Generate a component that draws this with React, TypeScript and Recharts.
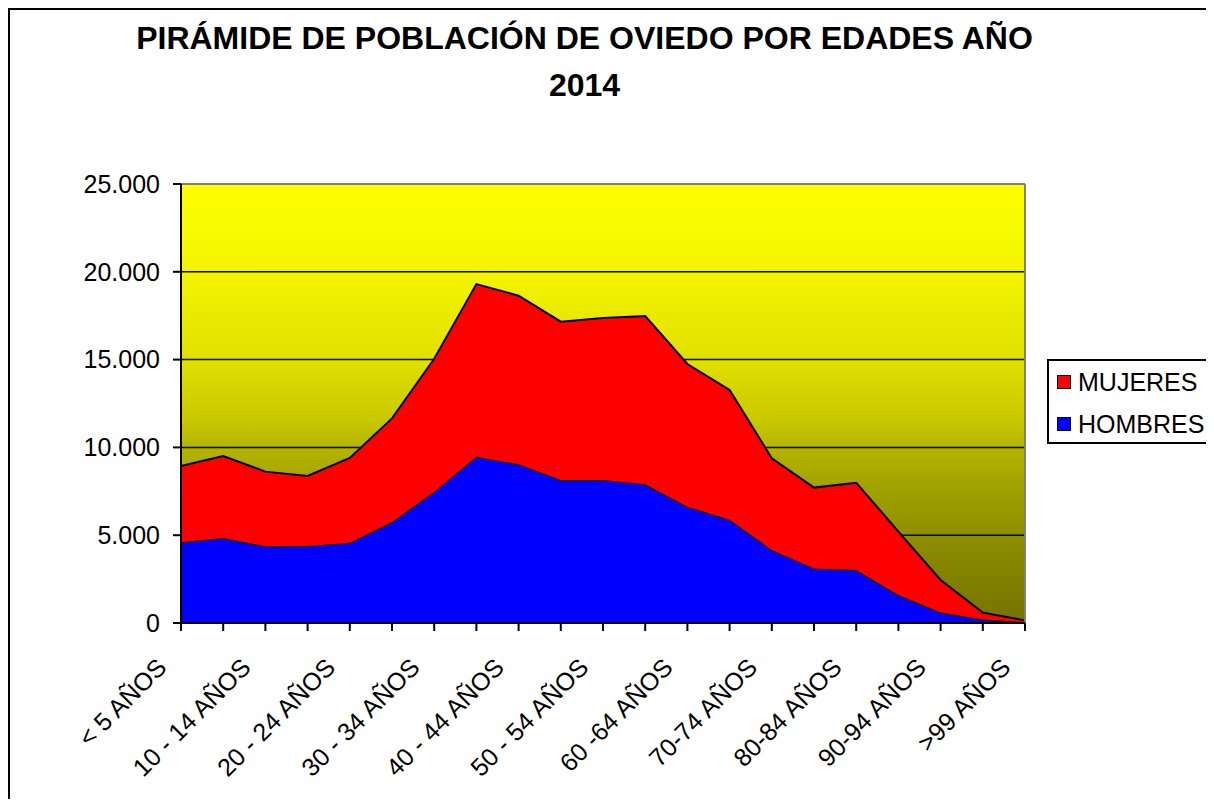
import { AreaChart, Area, XAxis, YAxis, CartesianGrid, ReferenceLine } from 'recharts'

const edades = [
  '< 5 AÑOS', '5 - 9 AÑOS', '10 - 14 AÑOS', '15 - 19 AÑOS', '20 - 24 AÑOS',
  '25 - 29 AÑOS', '30 - 34 AÑOS', '35 - 39 AÑOS', '40 - 44 AÑOS', '45 - 49 AÑOS',
  '50 - 54 AÑOS', '55 - 59 AÑOS', '60 -64 AÑOS', '65-69 AÑOS', '70-74 AÑOS',
  '75-79 AÑOS', '80-84 AÑOS', '85-89 AÑOS', '90-94 AÑOS', '95-99 AÑOS', '>99 AÑOS',
]

const hombres = [
  4600, 4840, 4370, 4380, 4570, 5750, 7480, 9470, 9040, 8140, 8140,
  7900, 6620, 5880, 4160, 3110, 3020, 1590, 600, 200, 40,
]

const mujeres = [
  4340, 4670, 4250, 3990, 4830, 5900, 7570, 9830, 9600, 9020, 9230,
  9580, 8130, 7390, 5220, 4600, 4970, 3610, 1850, 390, 110,
]

const yTicks = [0, 5000, 10000, 15000, 20000, 25000]

const data = edades.map((edad, i) => ({ edad, HOMBRES: hombres[i], MUJERES: mujeres[i] }))

const FONT = '"Liberation Sans", Arial, sans-serif'

const fmt = (v: number) => String(v).replace(/\B(?=(\d{3})+(?!\d))/g, '.')

function EdadTick(props: any) {
  const { x, y, payload, index } = props
  if (index % 2 !== 0) return null
  const tx = x - 13
  const ty = y + 38
  return (
    <text
      x={tx}
      y={ty}
      textAnchor="end"
      transform={`rotate(-45 ${tx} ${ty})`}
      fontSize={25}
      fontFamily={FONT}
      fill="#000"
    >
      {payload.value}
    </text>
  )
}

const legendItems = [
  { name: 'MUJERES', color: '#FF0000' },
  { name: 'HOMBRES', color: '#0000FF' },
]

export default function App() {
  return (
    <div
      style={{
        position: 'relative', width: 1206, height: 799, marginBottom: -8,
        overflow: 'hidden', fontFamily: FONT,
      }}
    >
      <style>{'html, body { overflow: hidden; }'}</style>
      <div
        style={{
          position: 'absolute', left: 0, top: 0, width: 1400, height: 1000,
          border: '2px solid #000', boxSizing: 'border-box',
        }}
      />
      <div
        style={{
          position: 'absolute', left: 0, top: 7, width: 1153, textAlign: 'center',
          fontSize: 32, fontWeight: 'bold', lineHeight: '47px', color: '#000',
        }}
      >
        PIRÁMIDE DE POBLACIÓN DE OVIEDO POR EDADES AÑO
        <br />
        2014
      </div>
      <div style={{ position: 'absolute', left: 0, top: 0 }}>
        <AreaChart
          width={1206}
          height={799}
          data={data}
          margin={{ top: 176, right: 189, left: 73, bottom: 64 }}
        >
          <defs>
            <linearGradient id="fondo" x1="0" y1="0" x2="0" y2="1">
              <stop offset="0%" stopColor="#FFFF00" />
              <stop offset="20%" stopColor="#F4F400" />
              <stop offset="40%" stopColor="#E0E000" />
              <stop offset="54%" stopColor="#C8C800" />
              <stop offset="60%" stopColor="#B4B400" />
              <stop offset="68%" stopColor="#A4A400" />
              <stop offset="80%" stopColor="#8E8E00" />
              <stop offset="100%" stopColor="#747400" />
            </linearGradient>
          </defs>
          <CartesianGrid
            vertical={false}
            stroke="#000"
            strokeWidth={1.5}
            fill="url(#fondo)"
            fillOpacity={1}
          />
          <XAxis
            dataKey="edad"
            interval={0}
            height={120}
            tickSize={8}
            tickMargin={0}
            tick={<EdadTick />}
            axisLine={{ stroke: '#000', strokeWidth: 2 }}
            tickLine={{ stroke: '#000', strokeWidth: 2 }}
          />
          <YAxis
            width={100}
            domain={[0, 25000]}
            ticks={yTicks}
            tickFormatter={fmt}
            tickSize={8}
            tickMargin={13}
            tick={{ fill: '#000', fontSize: 25, fontFamily: FONT }}
            axisLine={{ stroke: '#000', strokeWidth: 2 }}
            tickLine={{ stroke: '#000', strokeWidth: 2 }}
          />
          <Area
            type="linear"
            dataKey="HOMBRES"
            stackId="p"
            fill="#0000FF"
            fillOpacity={1}
            stroke="#000"
            strokeWidth={2}
            isAnimationActive={false}
          />
          <Area
            type="linear"
            dataKey="MUJERES"
            stackId="p"
            fill="#FF0000"
            fillOpacity={1}
            stroke="#000"
            strokeWidth={2}
            isAnimationActive={false}
          />
          <ReferenceLine y={25000} stroke="#808080" strokeWidth={2} />
          <ReferenceLine x={edades[edades.length - 1]} stroke="#808080" strokeWidth={2} />
        </AreaChart>
      </div>
      <div
        style={{
          position: 'absolute', left: 1039, top: 351, width: 200, height: 85,
          border: '2px solid #000', boxSizing: 'border-box', background: '#fff',
        }}
      >
        {legendItems.map((it, i) => (
          <div
            key={it.name}
            style={{
              position: 'absolute', left: 0, top: i * 42, height: 42,
              display: 'flex', alignItems: 'center',
            }}
          >
            <div
              style={{
                marginLeft: 8, width: 14, height: 14, background: it.color,
                border: '1px solid #000', boxSizing: 'border-box',
              }}
            />
            <span style={{ marginLeft: 7, fontSize: 25, lineHeight: '42px', color: '#000' }}>{it.name}</span>
          </div>
        ))}
      </div>
    </div>
  )
}
